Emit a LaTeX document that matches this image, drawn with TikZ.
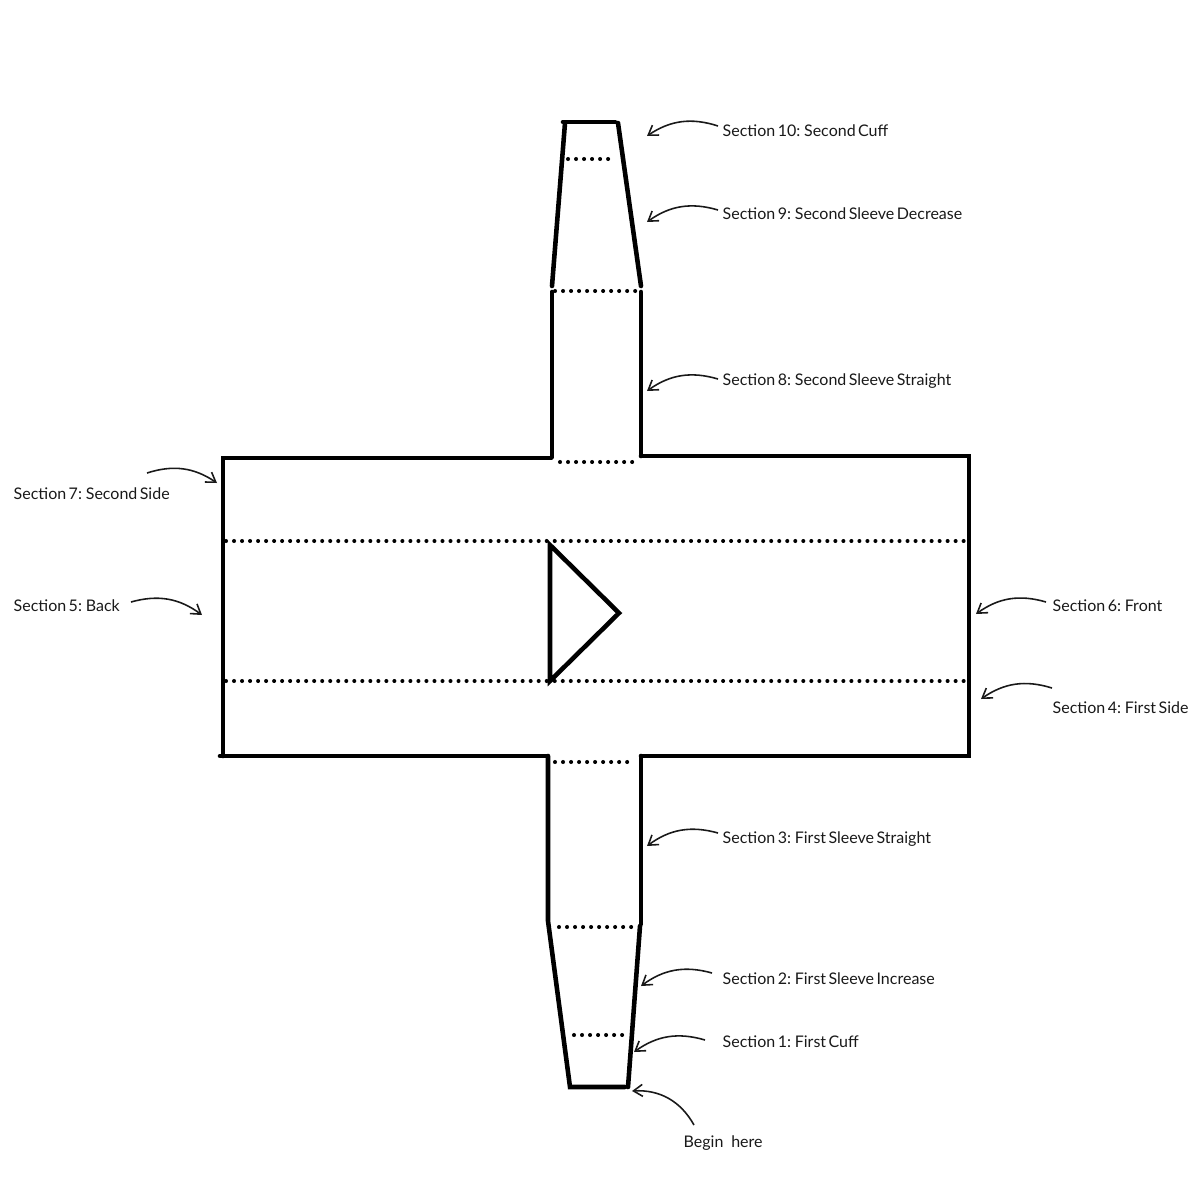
\documentclass[tikz,border=0pt]{standalone}
\usepackage{fontspec}
\setmainfont{Lato}[WordSpace=0.6]
\usetikzlibrary{arrows.meta}
\tikzset{
	seam/.style={line width=1.3pt, line cap=round},
	fold/.style={line width=1.15pt, line cap=round, dash pattern=on 0pt off 2.28pt},
	secnote/.style={anchor=west, inner sep=0pt, text=black!90, font=\fontsize{4.55}{5.5}\selectfont},
	pointer/.style={-{Straight Barb[length=2.6pt,width=3.4pt]}, line width=.45pt, black!90}
}
\begin{document}
\begin{tikzpicture}[x=.01cm, y=-.01cm]
	\useasboundingbox (0,0) rectangle (1200,1200);
% body
\draw[seam] (551,458) -- (223,458) -- (223,756);
\draw[seam] (220,756) -- (547,756);
\draw[seam] (641,456) -- (969,456) -- (969,756) -- (641,756);
% second sleeve
\draw[seam] (552,457) -- (552,292);
\draw[seam] (641,456) -- (641,292);
\draw[seam] (552,286) -- (565,123);
\draw[seam] (641,286) -- (618,123);
\draw[seam] (563,122) -- (615,122);
% first sleeve
\draw[seam] (548,756) -- (548,921) -- (570,1087) -- (625,1087);
\draw[seam] (641,756) -- (641,924);
\draw[seam] (640,926) -- (628,1087);
% arrow on the body
\draw[seam, line join=miter] (550,545) -- (619,613) -- (550,681) -- cycle;
% fold lines
\foreach \xa/\xb/\yy in {568/612/159, 555/639/291, 560/638/462, 226/968/541, 226/968/681, 555/632/762, 559/639/927, 574/626/1035}
	\draw[fold] (\xa,\yy) -- (\xb,\yy);
% labels and their pointers
\foreach \name/\lx/\ly/\ax/\ay/\bx/\by/\bend/\txt in {
	ten/722/130.5/718/126/647/136/26/Section 10: Second Cuff,
	nine/722/213.5/718/210/647/222/26/Section 9: Second Sleeve Decrease,
	eight/722/381.5/718/379/647/391/26/Section 8: Second Sleeve Straight,
	six/1052/605.5/1046/602/976/614/26/Section 6: Front,
	four/1052/707.5/1052/688/981/699/26/Section 4: First Side,
	three/722/839.5/718/833/647/846/26/Section 3: First Sleeve Straight,
	two/722/978.5/712/973/641/986/26/Section 2: First Sleeve Increase,
	one/722/1041.5/705/1040/634/1052/26/Section 1: First Cuff,
	begin/683/1143.5/694/1125/632/1091/32/Begin\,\, here
}{
	\node[secnote] (\name) at (\lx,\ly) {\txt};
	\coordinate (\name from) at (\ax,\ay);
	\coordinate (\name to) at (\bx,\by);
	\draw[pointer] (\name from) to[bend right=\bend] (\name to);
}
\foreach \name/\lx/\ly/\ax/\ay/\bx/\by/\txt in {
	seven/13/493.5/147/473/217/483/Section 7: Second Side,
	five/13/605.5/131/602/202/615/Section 5: Back
}{
	\node[secnote] (\name) at (\lx,\ly) {\txt};
	\coordinate (\name from) at (\ax,\ay);
	\coordinate (\name to) at (\bx,\by);
	\draw[pointer] (\name from) to[bend left=26] (\name to);
}
\end{tikzpicture}
\end{document}
